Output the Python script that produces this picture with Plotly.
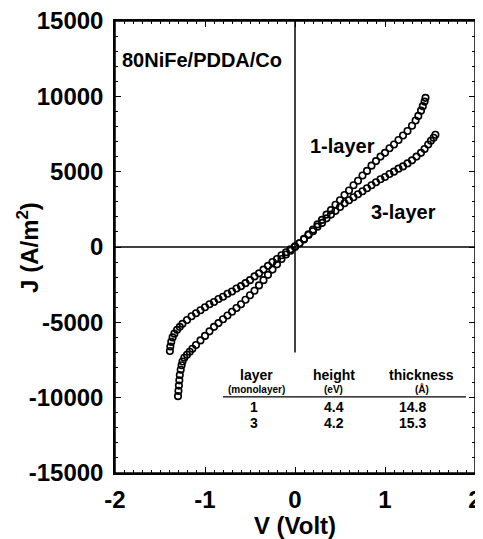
import plotly.graph_objects as go

# 1-layer sample: voltage (V) and current density (A/m^2)
v_1layer = [-1.30, -1.295, -1.29, -1.285, -1.28, -1.27, -1.26, -1.25, -1.23, -1.20,
            -1.17, -1.14, -1.10, -1.05, -1.00, -0.95, -0.90, -0.85, -0.80, -0.75,
            -0.70, -0.65, -0.60, -0.55, -0.50, -0.45, -0.40, -0.35, -0.30, -0.25,
            -0.20, -0.15, -0.10, -0.05, 0.00, 0.05, 0.10, 0.15, 0.20, 0.25,
            0.30, 0.35, 0.40, 0.45, 0.50, 0.55, 0.60, 0.65, 0.70, 0.75,
            0.80, 0.85, 0.90, 0.95, 1.00, 1.05, 1.10, 1.15, 1.20, 1.25,
            1.30, 1.34, 1.37, 1.40, 1.42, 1.44, 1.45]
j_1layer = [-9900, -9550, -9200, -8850, -8500, -8150, -7850, -7600, -7350, -7150,
            -6950, -6750, -6500, -6200, -5900, -5600, -5300, -5050, -4800, -4550,
            -4300, -4050, -3800, -3500, -3200, -2900, -2550, -2200, -1850, -1500,
            -1150, -800, -500, -250, 0, 250, 550, 850, 1150, 1500,
            1800, 2150, 2450, 2800, 3100, 3450, 3750, 4100, 4400, 4750,
            5050, 5400, 5700, 6000, 6250, 6550, 6800, 7100, 7400, 7700,
            8050, 8400, 8700, 9050, 9350, 9650, 9900]

# 3-layer sample
v_3layer = [-1.39, -1.385, -1.375, -1.36, -1.34, -1.31, -1.28, -1.25, -1.20, -1.15,
            -1.10, -1.05, -1.00, -0.95, -0.90, -0.85, -0.80, -0.75, -0.70, -0.65,
            -0.60, -0.55, -0.50, -0.45, -0.40, -0.35, -0.30, -0.25, -0.20, -0.15,
            -0.10, -0.05, 0.00, 0.05, 0.10, 0.15, 0.20, 0.25, 0.30, 0.35,
            0.40, 0.45, 0.50, 0.55, 0.60, 0.65, 0.70, 0.75, 0.80, 0.85,
            0.90, 0.95, 1.00, 1.05, 1.10, 1.15, 1.20, 1.25, 1.30, 1.35,
            1.40, 1.44, 1.48, 1.51, 1.54, 1.56]
j_3layer = [-6900, -6600, -6300, -6000, -5750, -5500, -5300, -5100, -4850, -4600,
            -4400, -4200, -4000, -3800, -3650, -3450, -3300, -3100, -2950, -2750,
            -2600, -2400, -2200, -1950, -1750, -1500, -1250, -1000, -800, -550,
            -350, -150, 50, 250, 500, 800, 1050, 1350, 1600, 1900,
            2150, 2400, 2650, 2900, 3100, 3300, 3500, 3700, 3900, 4100,
            4300, 4500, 4650, 4850, 5000, 5200, 5350, 5550, 5750, 6000,
            6250, 6500, 6800, 7050, 7250, 7450]

x_ticks = [-2, -1, 0, 1, 2]
x_ticktext = ["-2", "-1", "0", "1", "2"]
y_ticks = [-15000, -10000, -5000, 0, 5000, 10000, 15000]
y_ticktext = ["-15000", "-10000", "-5000", "0", "5000", "10000", "15000"]

# inset table
table_cols = ["layer", "height", "thickness"]
table_units = ["(monolayer)", "(eV)", "(Å)"]
table_rows = [["1", "4.4", "14.8"], ["3", "4.2", "15.3"]]

FONT = "Liberation Sans"

fig = go.Figure()
marker = dict(symbol="circle-open", size=6.5, color="black", line=dict(width=1.6, color="black"))
fig.add_trace(go.Scatter(x=v_1layer, y=j_1layer, mode="markers", marker=marker, name="1-layer",
                         cliponaxis=False))
fig.add_trace(go.Scatter(x=v_3layer, y=j_3layer, mode="markers", marker=marker, name="3-layer",
                         cliponaxis=False))

axis_common = dict(
    showgrid=False, zeroline=False, showline=True, linecolor="black", linewidth=1.5,
    mirror="allticks", ticks="inside", ticklen=6, tickwidth=1.2, tickcolor="black",
    tickfont=dict(family=FONT, size=24, color="black", weight="bold"),
    automargin=False, ticklabeloverflow="allow",
)
fig.update_xaxes(
    range=[-2, 2], tickvals=x_ticks, ticktext=x_ticktext, ticklabelstandoff=4,
    minor=dict(dtick=0.1, ticks="inside", ticklen=3, tickcolor="black", tickwidth=1),
    title=dict(text="<b>V (Volt)</b>", font=dict(family=FONT, size=24, color="black"), standoff=2),
    **axis_common,
)
fig.update_yaxes(
    range=[-15000, 15000], tickvals=y_ticks, ticktext=y_ticktext, ticklabelstandoff=5,
    minor=dict(dtick=1000, ticks="inside", ticklen=3, tickcolor="black", tickwidth=1),
    **axis_common,
)

# plot frame and reference cross lines
fig.add_shape(type="rect", x0=0, x1=1, y0=0, y1=1, xref="paper", yref="paper",
              line=dict(color="black", width=1.5), layer="above")
fig.add_shape(type="line", x0=-2, x1=2, y0=0, y1=0, xref="x", yref="y", line=dict(color="black", width=1.5))
fig.add_shape(type="line", x0=0, x1=0, y0=-7000, y1=15000, xref="x", yref="y", line=dict(color="black", width=1.5))

ann = []
ann.append(dict(x=-0.242, y=0.5, xref="paper", yref="paper", text="<b>J (A/m<sup>2</sup>)</b>",
                textangle=-90, xanchor="center", yanchor="middle",
                font=dict(family=FONT, size=24, color="black"), showarrow=False))
ann.append(dict(x=-1.94, y=12400, text="<b>80NiFe/PDDA/Co</b>", xanchor="left", yanchor="middle",
                font=dict(family=FONT, size=20, color="black"), showarrow=False))
ann.append(dict(x=0.53, y=6700, text="<b>1-layer</b>", xanchor="center", yanchor="middle",
                font=dict(family=FONT, size=20, color="black"), showarrow=False))
ann.append(dict(x=1.2, y=2300, text="<b>3-layer</b>", xanchor="center", yanchor="middle",
                font=dict(family=FONT, size=20, color="black"), showarrow=False))

col_x = [-0.43, 0.43, 1.41]
val_x = [-0.46, 0.43, 1.31]
for cx, name, unit in zip(col_x, table_cols, table_units):
    ann.append(dict(x=cx, y=-8500, text=f"<b>{name}</b>", xanchor="center", yanchor="middle",
                    font=dict(family=FONT, size=14, color="black"), showarrow=False))
    ann.append(dict(x=cx, y=-9450, text=f"<b>{unit}</b>", xanchor="center", yanchor="middle",
                    font=dict(family=FONT, size=10, color="black"), showarrow=False))
for row, ry in zip(table_rows, [-10650, -11700]):
    for vx, txt in zip(val_x, row):
        ann.append(dict(x=vx, y=ry, text=f"<b>{txt}</b>", xanchor="center", yanchor="middle",
                        font=dict(family=FONT, size=14, color="black"), showarrow=False))
fig.add_shape(type="line", x0=-0.8, x1=1.9, y0=-9950, y1=-9950, xref="x", yref="y",
              line=dict(color="black", width=1.3))

fig.update_layout(
    width=475, height=531,
    margin=dict(l=107, r=8, t=13, b=66),
    plot_bgcolor="white", paper_bgcolor="white",
    showlegend=False, annotations=ann,
)

fig.write_html("out.html")
